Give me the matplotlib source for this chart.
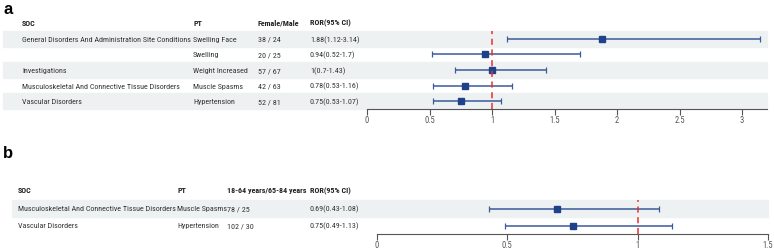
import matplotlib.pyplot as plt
import matplotlib.transforms as mtransforms
from matplotlib.patches import Rectangle
from matplotlib.textpath import TextPath
from matplotlib.font_manager import FontProperties

FONT = 'Roboto Condensed'
plt.rcParams['font.family'] = [FONT, 'Liberation Sans', 'DejaVu Sans']

# panel a data
soc_a = ['General Disorders And Administration Site Conditions', '', 'Investigations',
         'Musculoskeletal And Connective Tissue Disorders', 'Vascular Disorders']
pt_a = ['Swelling Face', 'Swelling', 'Weight Increased', 'Muscle Spasms', 'Hypertension']
cnt_a = ['38 / 24', '20 / 25', '57 / 67', '42 / 63', '52 / 81']
ror_a = [1.88, 0.94, 1.0, 0.78, 0.75]
lo_a = [1.12, 0.52, 0.7, 0.53, 0.53]
hi_a = [3.14, 1.7, 1.43, 1.16, 1.07]
lab_a = ['1.88(1.12-3.14)', '0.94(0.52-1.7)', '1(0.7-1.43)', '0.78(0.53-1.16)', '0.75(0.53-1.07)']
ticks_a = [0, 0.5, 1, 1.5, 2, 2.5, 3]

# panel b data
soc_b = ['Musculoskeletal And Connective Tissue Disorders', 'Vascular Disorders']
pt_b = ['Muscle Spasms', 'Hypertension']
cnt_b = ['78 / 25', '102 / 30']
ror_b = [0.69, 0.75]
lo_b = [0.43, 0.49]
hi_b = [1.08, 1.13]
lab_b = ['0.69(0.43-1.08)', '0.75(0.49-1.13)']
ticks_b = [0, 0.5, 1, 1.5]

W, H = 774, 251
fig = plt.figure(figsize=(W / 100, H / 100), dpi=100)

# fit font size so the longest SOC label is ~168 px wide, like the reference
tp = TextPath((0, 0), soc_a[0], size=10, prop=FontProperties(family=FONT))
w10 = tp.get_extents().width * 100 / 72
FS = min(7.4, 10 * 168 / w10)

STRIPE = '#eef1f1'
LINE = '#3b5a9c'
MARK = '#1f4189'


def forest(left, right, top, bottom, xmax, soc, pt, cnt, ror, lo, hi, lab,
           ticks, head3, cols, stripe_left, header_off):
    ax = fig.add_axes([left / W, 1 - bottom / H, (right - left) / W, (bottom - top) / H])
    n = len(ror)
    ax.set_xlim(0, xmax)
    ax.set_ylim(n - 0.5, -0.5)
    trans = mtransforms.blended_transform_factory(fig.transFigure, ax.transData)
    for i in range(n):
        if i % 2 == 0:
            ax.add_patch(Rectangle((stripe_left / W, i - 0.5), (right - stripe_left) / W, 1,
                                   transform=trans, color=STRIPE, zorder=0, clip_on=False))
        for c, txt in zip(cols, [soc[i], pt[i], cnt[i], lab[i]]):
            ax.text(c / W, i, txt, transform=trans, fontsize=FS, va='center',
                    color='#333333')
    for c, txt in zip(cols, ['SOC', 'PT', head3, 'ROR(95% CI)']):
        ax.text(c / W, header_off, txt, transform=trans, fontsize=FS, va='center',
                fontweight='bold', color='#222222')
    ys = list(range(n))
    ax.errorbar(ror, ys, xerr=[[r - l for r, l in zip(ror, lo)], [h - r for r, h in zip(ror, hi)]],
                fmt='none', ecolor=LINE, elinewidth=1.1, capsize=2.5, capthick=0.9, zorder=2)
    ax.plot(ror, ys, 's', color=MARK, markersize=5, zorder=3)
    ax.axvline(1, color='#e8302a', linestyle=(0, (4, 3)), linewidth=1.1, zorder=4)
    for s in ['left', 'right', 'top']:
        ax.spines[s].set_visible(False)
    ax.spines['bottom'].set_color('#555555')
    ax.spines['bottom'].set_linewidth(0.8)
    ax.set_yticks([])
    ax.set_xticks(ticks)
    ax.set_xticklabels([f'{t:g}' for t in ticks])
    ax.tick_params(axis='x', labelsize=FS + 0.4, colors='#555555', length=4, width=0.8, pad=0.5)
    return ax


forest(367, 767, 32, 110, 3.2, soc_a, pt_a, cnt_a, ror_a, lo_a, hi_a, lab_a,
       ticks_a, 'Female/Male', [22, 193, 258, 310], 3, -1.05)
forest(377, 768, 201, 235, 1.5, soc_b, pt_b, cnt_b, ror_b, lo_b, hi_b, lab_b,
       ticks_b, '18-64 years/65-84 years', [18, 177, 227, 310], 12, -1.1)

fig.text(3 / W, 1 - 10 / H, 'a', fontsize=12, fontweight='bold', va='center',
         family='Liberation Sans')
fig.text(3 / W, 1 - 154 / H, 'b', fontsize=12, fontweight='bold', va='center',
         family='Liberation Sans')

fig.savefig('out.png', dpi=100)
